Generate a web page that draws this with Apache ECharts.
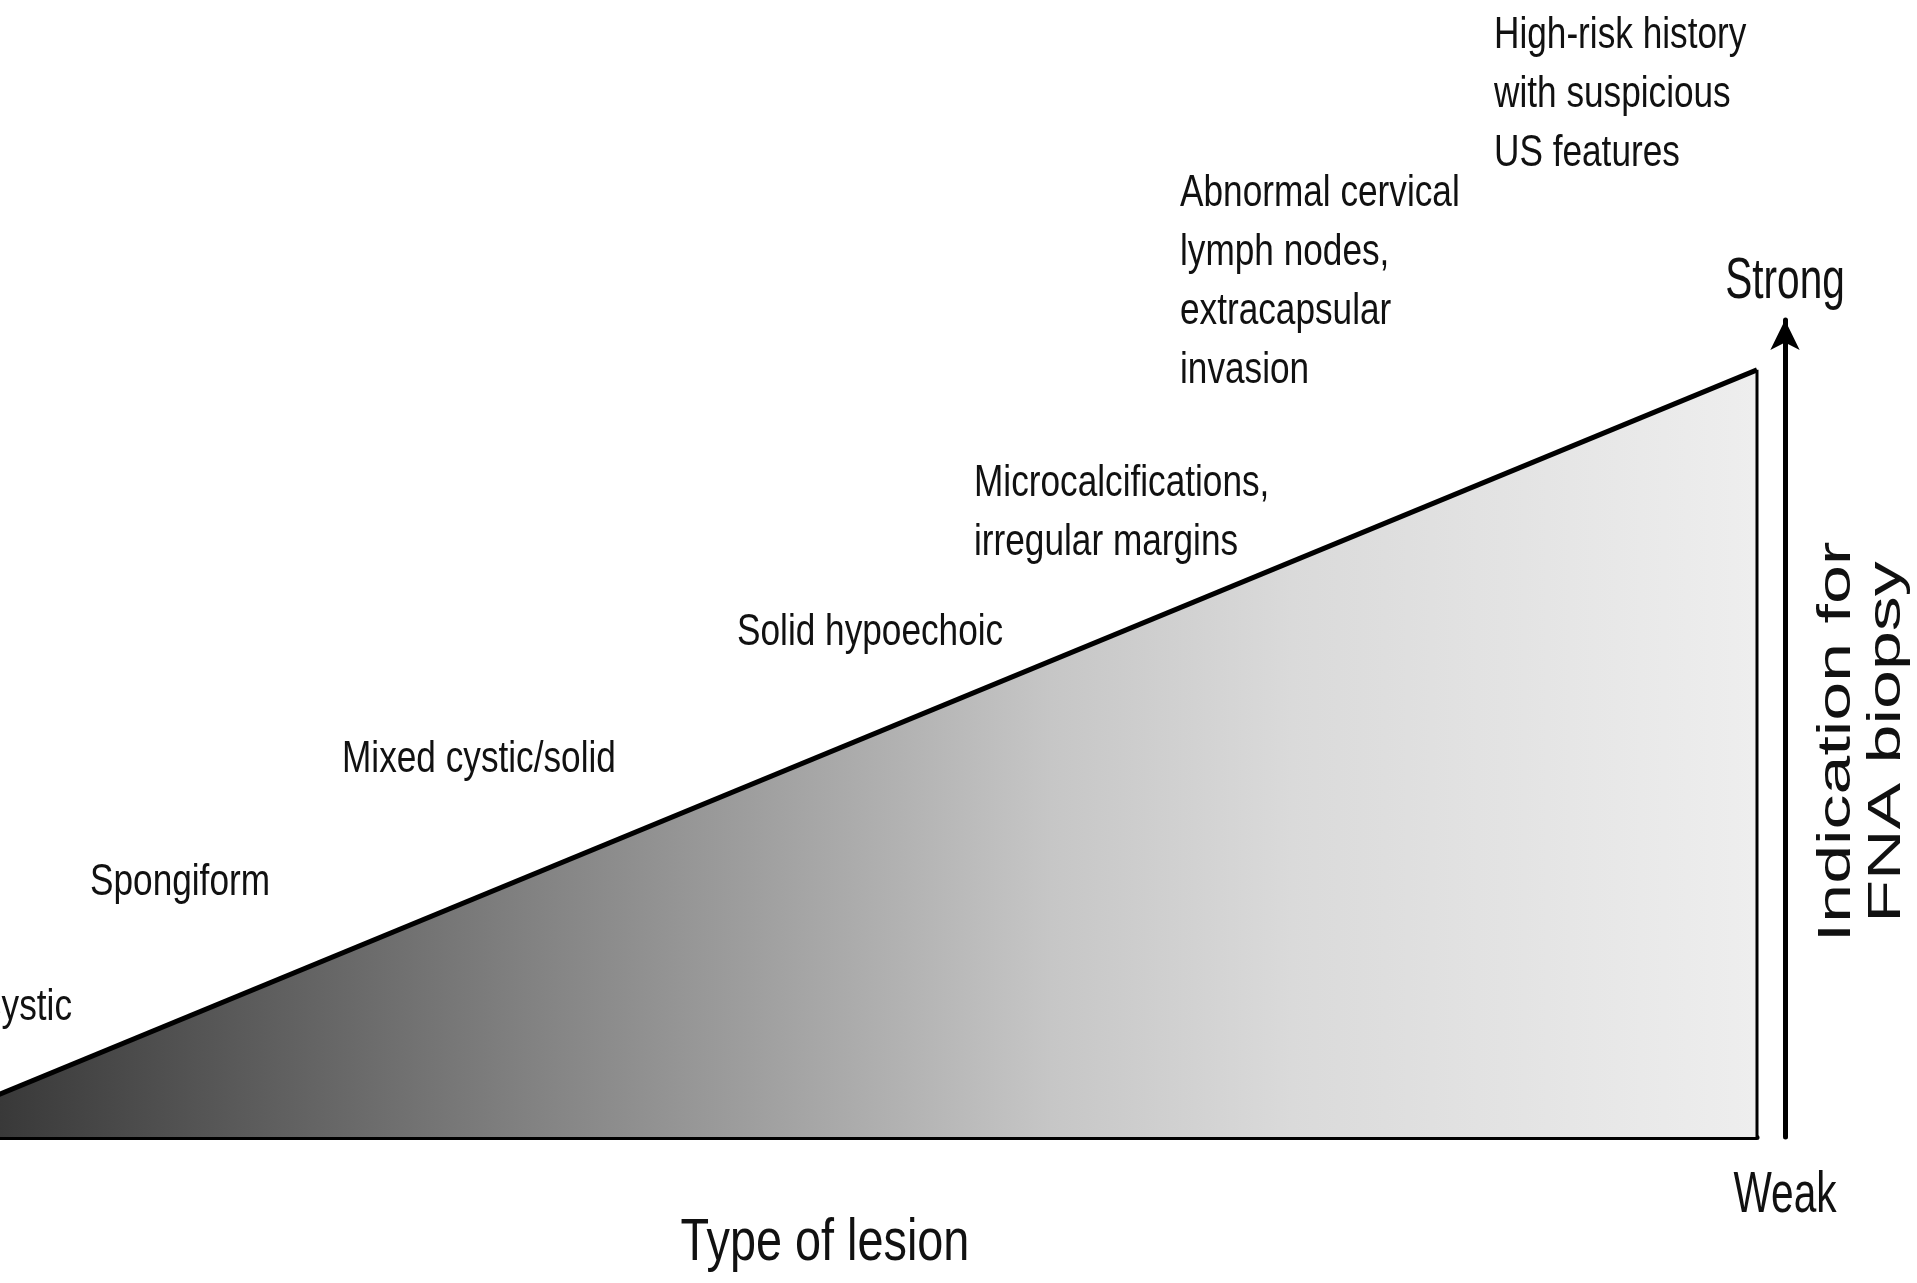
<!DOCTYPE html>
<html>
<head>
<meta charset="utf-8">
<title>Indication for FNA biopsy</title>
<script src="https://cdn.jsdelivr.net/npm/echarts@6/dist/echarts.min.js"></script>
<style>
  html, body { margin: 0; padding: 0; background: #fff; overflow: hidden; }
  /* the figure is cropped on the left, like the source: the apex sits off-page */
  #chart { width: 2021px; height: 1283px; margin-left: -104px; }
</style>
</head>
<body>
<div id="chart"></div>
<script>
// lesion types, least to most suspicious
const lesionTypes = [
  'Cystic',
  'Spongiform',
  'Mixed cystic/solid',
  'Solid hypoechoic',
  'Microcalcifications,\nirregular margins',
  'Abnormal cervical\nlymph nodes,\nextracapsular\ninvasion',
  'High-risk history\nwith suspicious\nUS features'
]
// the rising edge: type of lesion (0-100) against indication (0-100)
const lesionScale = [0, 100]
const indicationLevel = [0, 100]
const strengthLabels = ['Weak', 'Strong']
const xAxisName = 'Type of lesion'
const yAxisName = 'Indication for\nFNA biopsy'

// where each lesion label sits (page px), same order as lesionTypes
const labelPos = [[72, 1008], [90, 883], [342, 760], [737, 633], [974, 513], [1180, 282], [1494, 95]]
const SHIFT = 104 // page x -> chart x

const chart = echarts.init(document.getElementById('chart'))
const FONT = 'Liberation Sans, Arial, sans-serif'

function txt(text, x, y, opt) {
  opt = opt || {}
  return {
    type: 'text',
    x: x + SHIFT,
    y: y,
    scaleX: opt.scaleX || 1,
    rotation: opt.rotation || 0,
    style: {
      text: text,
      fontFamily: FONT,
      fontSize: opt.size || 44,
      lineHeight: opt.lineHeight || 59,
      fill: '#111',
      align: opt.align || 'left',
      textAlign: opt.align || 'left',
      verticalAlign: 'middle',
      textVerticalAlign: 'middle'
    }
  }
}

const graphics = lesionTypes.map((t, i) =>
  txt(t, labelPos[i][0], labelPos[i][1], { scaleX: 0.8, align: i === 0 ? 'right' : 'left' }))
graphics.push(txt(strengthLabels[0], 1785, 1196, { size: 58, scaleX: 0.7, align: 'center' }))
graphics.push(txt(strengthLabels[1], 1785, 282, { size: 58, scaleX: 0.7, align: 'center' }))
graphics.push(txt(xAxisName, 825, 1243, { size: 60, scaleX: 0.78, align: 'center' }))
graphics.push(txt(yAxisName, 1862, 742, { size: 46, lineHeight: 50, scaleX: 1.52, rotation: Math.PI / 2, align: 'center' }))

const edge = lesionScale.map((x, i) => [x, indicationLevel[i]])
const rightSide = indicationLevel.map(y => [lesionScale[1], y])

const option = {
  backgroundColor: '#fff',
  animation: false,
  grid: { left: 0, right: 160, top: 320, bottom: 146 },
  xAxis: {
    type: 'value',
    min: 0,
    max: 100,
    axisLine: { show: true, onZero: false, lineStyle: { color: '#000', width: 5 } },
    axisTick: { show: false },
    axisLabel: { show: false },
    splitLine: { show: false }
  },
  yAxis: {
    type: 'value',
    position: 'right',
    offset: 28,
    min: 0,
    max: 106.5,
    axisLine: {
      show: true,
      onZero: false,
      symbol: ['none', 'arrow'],
      symbolSize: [22, 30],
      lineStyle: { color: '#000', width: 5 }
    },
    axisTick: { show: false },
    axisLabel: { show: false },
    splitLine: { show: false }
  },
  series: [
    {
      type: 'line',
      data: edge,
      showSymbol: false,
      clip: false,
      lineStyle: { color: '#000', width: 5 },
      areaStyle: {
        opacity: 1,
        color: new echarts.graphic.LinearGradient(0, 0, 1, 0, [
          { offset: 0, color: '#2a2a2a' },
          { offset: 0.06, color: '#3a3a3a' },
          { offset: 0.2, color: '#5e5e5e' },
          { offset: 0.35, color: '#848484' },
          { offset: 0.5, color: '#a8a8a8' },
          { offset: 0.62, color: '#c6c6c6' },
          { offset: 0.75, color: '#dadada' },
          { offset: 0.9, color: '#e6e6e6' },
          { offset: 1, color: '#eeeeee' }
        ])
      }
    },
    {
      type: 'line',
      data: rightSide,
      showSymbol: false,
      clip: false,
      lineStyle: { color: '#000', width: 3 }
    }
  ],
  graphic: graphics
}

chart.setOption(option)
</script>
</body>
</html>
